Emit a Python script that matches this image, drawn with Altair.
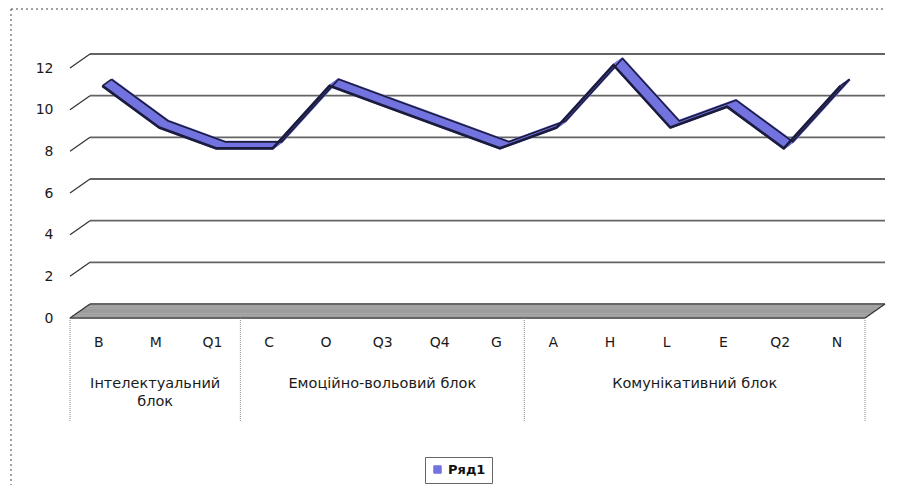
import json
import numpy as np
import pandas as pd
import altair as alt

# ---------------- data ----------------
categories = ["B", "M", "Q1", "C", "O", "Q3", "Q4", "G", "A", "H", "L", "E", "Q2", "N"]
values = [11, 9, 8, 8, 11, 10, 9, 8, 9, 12, 9, 10, 8, 11]
groups = ["Інтелектуальний\nблок", "Емоційно-вольовий блок", "Комунікативний блок"]
group_sizes = [3, 5, 6]
y_ticks = [0, 2, 4, 6, 8, 10, 12]
series_name = "Ряд1"

# ---------------- style ----------------
FONT = "DejaVu Sans"
BLUE = "#7373e0"
DARK = "#1b1b3a"
GRID = "#646464"
FLOOR = "#9c9c9c"
W, H = 795, 250
DX, DY = 20, -14          # depth of the 3-D box
FX, FY = 4.0, -3.0        # ribbon front edge offset
BX, BY = 13.0, -9.5       # ribbon back edge offset

n = len(categories)
df = pd.DataFrame({"i": list(range(n)), "cat": categories, "v": values,
                   "series": [series_name] * n})

bounds = [-0.5]
for s in group_sizes:
    bounds.append(bounds[-1] + s)
grp_df = pd.DataFrame({"g": groups,
                       "c": [(bounds[k] + bounds[k + 1]) / 2 for k in range(len(groups))]})
sep_df = pd.DataFrame({"b": bounds})
grid_df = pd.DataFrame({"v": y_ticks, "x0": [-0.5] * len(y_ticks), "x1": [n - 0.5] * len(y_ticks)})
floor_df = grid_df[grid_df["v"] == 0]
back_df = grid_df[grid_df["v"] > 0]

xs = alt.Scale(domain=[-0.5, n - 0.5], nice=False, zero=False)
ys = alt.Scale(domain=[0, max(y_ticks)], nice=False)

label_expr = json.dumps(categories) + "[datum.value]"

x_axis = alt.Axis(values=list(range(n)), labelExpr=label_expr, grid=False, ticks=False,
                  domain=False, labelPadding=17, labelFont=FONT, labelFontSize=14,
                  labelColor="#1a1a1a", labelOverlap=False, labelFlush=False, title=None)
y_axis = alt.Axis(values=y_ticks, grid=False, ticks=False, domain=False, labelPadding=17,
                  labelFont=FONT, labelFontSize=14, labelColor="#1a1a1a", title=None)


def X(f):
    return alt.X(f, scale=xs, axis=x_axis)


def Y(f):
    return alt.Y(f, scale=ys, axis=y_axis)


layers = []

# back-wall gridlines
layers.append(alt.Chart(back_df).mark_rule(
    color=GRID, strokeWidth=1.8, xOffset=DX, x2Offset=DX, yOffset=DY, y2Offset=DY
).encode(x=X("x0:Q"), x2="x1:Q", y=Y("v:Q"), y2="v:Q"))

# floor (swept)
for t in np.linspace(0, 1, 9):
    layers.append(alt.Chart(floor_df).mark_rule(
        color=FLOOR, strokeWidth=2.2, xOffset=DX * t, x2Offset=DX * t,
        yOffset=DY * t, y2Offset=DY * t
    ).encode(x=X("x0:Q"), x2="x1:Q", y=Y("v:Q"), y2="v:Q"))
# floor outline: front & back edges
for t, w in [(0, 1.2), (1, 1.0)]:
    layers.append(alt.Chart(floor_df).mark_rule(
        color="#333", strokeWidth=w, xOffset=DX * t, x2Offset=DX * t,
        yOffset=DY * t, y2Offset=DY * t
    ).encode(x=X("x0:Q"), x2="x1:Q", y=Y("v:Q"), y2="v:Q"))

# diagonal connectors at every tick (left wall edge) and right floor edge
layers.append(alt.Chart(grid_df).mark_rule(
    color="#333", strokeWidth=1.2, x2Offset=DX, y2Offset=DY
).encode(x=X("x0:Q"), x2="x0:Q", y=Y("v:Q"), y2="v:Q"))
layers.append(alt.Chart(floor_df).mark_rule(
    color="#333", strokeWidth=1.2, x2Offset=DX, y2Offset=DY
).encode(x=X("x1:Q"), x2="x1:Q", y=Y("v:Q"), y2="v:Q"))

# group separators below the floor
layers.append(alt.Chart(sep_df).mark_rule(
    color="#888", strokeWidth=1, strokeDash=[1, 1]
).encode(x=X("b:Q"), y=alt.value(H), y2=alt.value(H + 104)))

# group labels
layers.append(alt.Chart(grp_df).mark_text(
    font=FONT, fontSize=14.5, color="#1a1a1a", baseline="top", align="center",
    lineBreak="\n", lineHeight=18
).encode(x=X("c:Q"), y=alt.value(H + 59), text="g:N"))

# ribbon: swept top face
steps = np.linspace(0, 1, 9)
for k, t in enumerate(steps):
    ox = FX + (BX - FX) * t
    oy = FY + (BY - FY) * t
    enc = dict(x=X("i:Q"), y=Y("v:Q"))
    if k == 4:
        enc["color"] = alt.Color(
            "series:N", scale=alt.Scale(range=[BLUE]),
            legend=alt.Legend(title=None, orient="none", legendX=355, legendY=389,
                              direction="horizontal", strokeColor="#666", padding=6,
                              symbolType="square", symbolSize=55, symbolFillColor=BLUE,
                              symbolStrokeColor=DARK, symbolStrokeWidth=1,
                              labelFont=FONT, labelFontSize=13, labelColor="#111",
                              labelFontWeight="bold"))
        layers.append(alt.Chart(df).mark_line(strokeWidth=2.4, strokeJoin="round",
                                              xOffset=ox, yOffset=oy).encode(**enc))
    else:
        layers.append(alt.Chart(df).mark_line(color=BLUE, strokeWidth=2.4, strokeJoin="round",
                                              xOffset=ox, yOffset=oy).encode(**enc))

# ribbon edges
for ox, oy, w in [(FX, FY, 2.6), (BX, BY, 1.6)]:
    layers.append(alt.Chart(df).mark_line(color=DARK, strokeWidth=w, strokeJoin="round",
                                          xOffset=ox, yOffset=oy).encode(
        x=X("i:Q"), y=Y("v:Q")))
# ribbon end caps
ends = df.iloc[[0, n - 1]]
layers.append(alt.Chart(ends).mark_rule(
    color=DARK, strokeWidth=1.6, xOffset=FX, yOffset=FY, x2Offset=BX, y2Offset=BY
).encode(x=X("i:Q"), x2="i:Q", y=Y("v:Q"), y2="v:Q"))

# chart-area dotted border (left and top)
layers.append(alt.Chart(df.iloc[[0]]).mark_rule(color="#444", strokeDash=[2, 3], strokeWidth=1)
              .encode(x=alt.value(-59), y=alt.value(-59), y2=alt.value(H + 170)))
layers.append(alt.Chart(df.iloc[[0]]).mark_rule(color="#444", strokeDash=[2, 3], strokeWidth=1)
              .encode(x=alt.value(-59), x2=alt.value(W + 20), y=alt.value(-59)))

chart = alt.layer(*layers).properties(
    width=W, height=H,
    autosize=alt.AutoSizeParams(type="none"),
    padding={"left": 62, "top": 60, "right": 25, "bottom": 167},
    background="white",
).configure_view(stroke=None)

chart.save("out.html", embed_options={"renderer": "svg", "actions": False})
